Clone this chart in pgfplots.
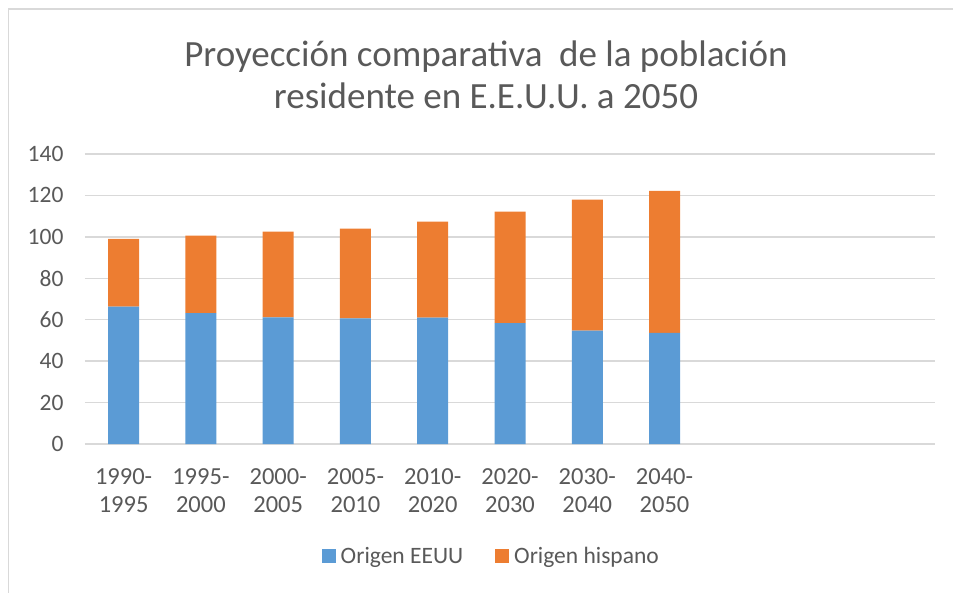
\documentclass[border=0pt]{standalone}
\usepackage{pgfplots}
\pgfplotsset{compat=1.18}
\usepackage{fontspec}
\setmainfont{Carlito}
\definecolor{txt}{HTML}{595959}
\definecolor{gridc}{HTML}{D9D9D9}
\definecolor{cblue}{HTML}{5B9BD5}
\definecolor{corange}{HTML}{ED7D31}
\begin{document}
\begin{tikzpicture}[x=1pt,y=1pt]
\path[use as bounding box] (0,0) rectangle (953,-593);
\draw[gridc, line width=1.5pt] (8.5,-593) -- (8.5,-9) -- (953,-9);
\node[anchor=base, text=txt, font=\fontsize{37}{44}\selectfont] at (486,-67) {Proyección comparativa\ \ de la población};
\node[anchor=base, text=txt, font=\fontsize{37}{44}\selectfont] at (486,-109) {residente en E.E.U.U. a 2050};
\begin{axis}[
  at={(85pt,-444pt)}, anchor=south west,
  scale only axis, width=850pt, height=290pt,
  ybar stacked, bar width=31pt,
  xmin=-0.5, xmax=10.5, ymin=0, ymax=140,
  ytick={0,20,...,140},
  xtick={0,1,2,3,4,5,6,7},
  xticklabels={{1990-\\1995},{1995-\\2000},{2000-\\2005},{2005-\\2010},{2010-\\2020},{2020-\\2030},{2030-\\2040},{2040-\\2050}},
  axis line style={draw=none},
  axis x line*=bottom,
  major tick length=0pt,
  ymajorgrids, grid style={gridc, line width=1.5pt},
  /pgf/number format/assume math mode=true,
  yticklabel style={text=txt, font=\fontsize{23.5}{28}\selectfont, xshift=-18pt},
  xticklabel style={text=txt, font=\fontsize{24.5}{28}\selectfont, align=center, yshift=-21pt},
  legend columns=2,
  legend style={draw=none, at={(0.478,-0.386)}, anchor=center, font=\fontsize{23.5}{28}\selectfont, text=txt,
    /tikz/every odd column/.append style={column sep=3pt},
    /tikz/every even column/.append style={column sep=30pt}},
  legend image code/.code={\fill[#1] (0pt,-7pt) rectangle (14pt,7pt);},
  legend cell align=left,
]
\addplot[fill=cblue, draw=none] coordinates {(0,66.3) (1,63.2) (2,61.1) (3,60.6) (4,61.0) (5,58.4) (6,54.7) (7,53.6)};
\addplot[fill=corange, draw=none] coordinates {(0,32.7) (1,37.4) (2,41.4) (3,43.4) (4,46.3) (5,53.8) (6,63.3) (7,68.6)};
\legend{Origen EEUU, Origen hispano}
\end{axis}
\end{tikzpicture}
\end{document}
